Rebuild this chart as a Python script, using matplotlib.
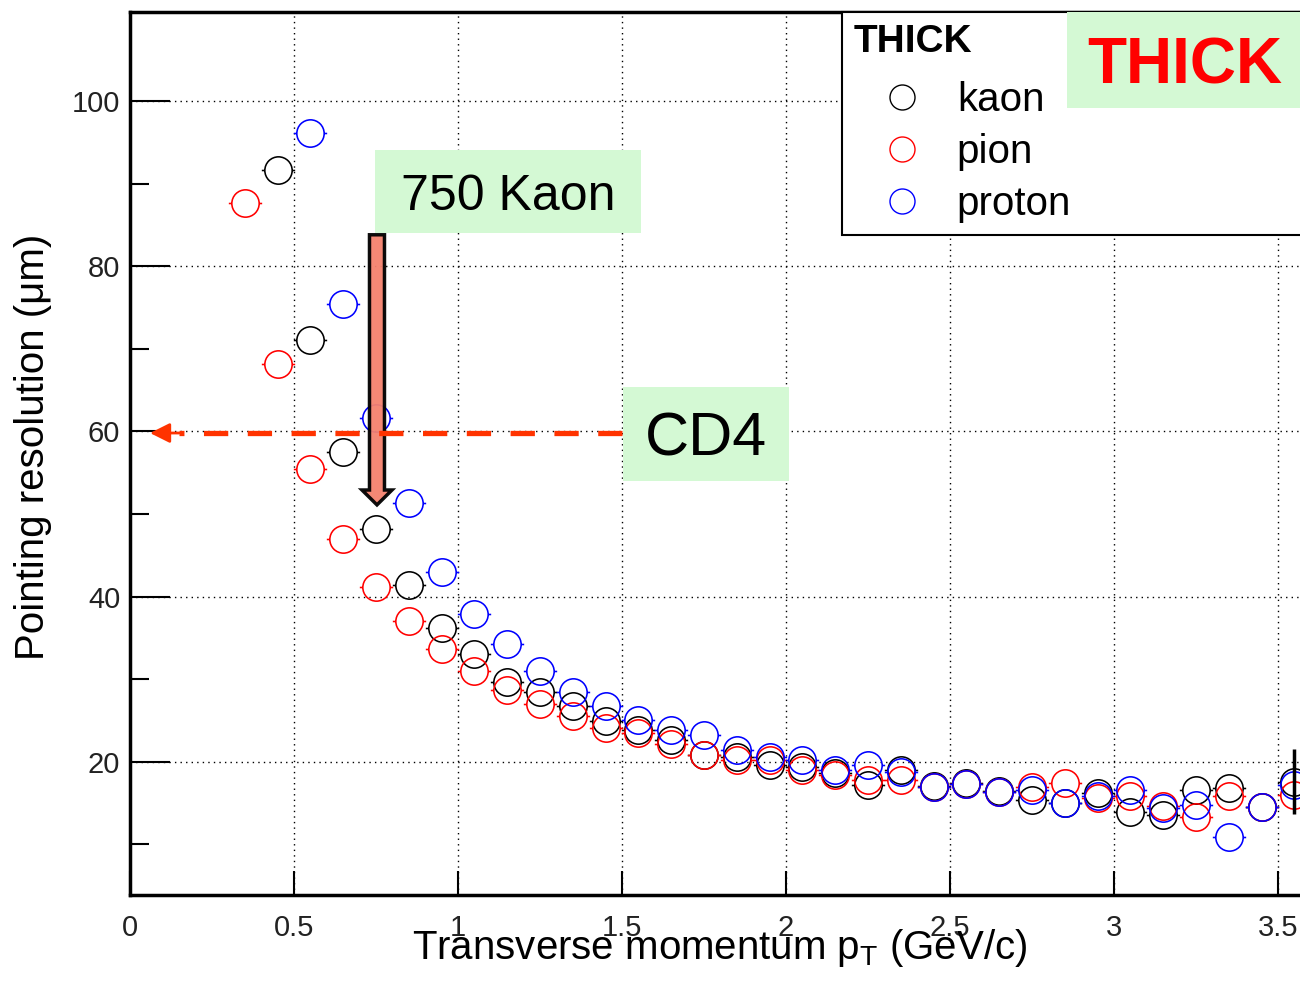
import matplotlib
matplotlib.use("Agg")
import matplotlib.pyplot as plt
from matplotlib.path import Path
from matplotlib.lines import Line2D
from matplotlib.patches import Rectangle
import numpy as np

# ---------------- data ----------------
kaon_x = [0.45, 0.55, 0.65, 0.75, 0.85, 0.95, 1.05, 1.15, 1.25, 1.35, 1.45, 1.55, 1.65,
          1.75, 1.85, 1.95, 2.05, 2.15, 2.25, 2.35, 2.45, 2.55, 2.65, 2.75, 2.85, 2.95,
          3.05, 3.15, 3.25, 3.35, 3.45, 3.55]
kaon_y = [91.6, 71.1, 57.5, 48.2, 41.4, 36.2, 33.0, 29.7, 28.4, 26.8, 24.9, 23.9, 22.6,
          20.8, 20.6, 19.6, 19.4, 18.6, 17.2, 19.0, 17.1, 17.4, 16.5, 15.4, 15.0, 16.2,
          13.9, 13.5, 16.6, 16.8, 14.5, 17.6]
kaon_yerr = [0, 0, 0, 0, 0, 0, 0, 0, 0, 0, 0, 0, 0, 0, 0, 0, 0, 0, 0, 0, 0, 0, 0, 0, 0, 0,
             0, 0, 0, 0, 0, 3.9]

pion_x = [0.35, 0.45, 0.55, 0.65, 0.75, 0.85, 0.95, 1.05, 1.15, 1.25, 1.35, 1.45, 1.55,
          1.65, 1.75, 1.85, 1.95, 2.05, 2.15, 2.25, 2.35, 2.45, 2.55, 2.65, 2.75, 2.85,
          2.95, 3.05, 3.15, 3.25, 3.35, 3.45, 3.55]
pion_y = [87.6, 68.1, 55.4, 47.0, 41.2, 37.0, 33.6, 31.0, 28.7, 27.0, 25.5, 24.1, 23.5,
          22.2, 20.8, 20.2, 20.2, 19.0, 18.4, 17.8, 17.8, 17.0, 17.3, 16.4, 16.9, 17.4,
          15.6, 15.8, 14.6, 13.3, 15.8, 14.5, 16.0]

proton_x = [0.55, 0.65, 0.75, 0.85, 0.95, 1.05, 1.15, 1.25, 1.35, 1.45, 1.55, 1.65, 1.75,
            1.85, 1.95, 2.05, 2.15, 2.25, 2.35, 2.45, 2.55, 2.65, 2.75, 2.85, 2.95, 3.05,
            3.15, 3.25, 3.35, 3.45, 3.55]
proton_y = [96.1, 75.4, 61.6, 51.3, 43.0, 37.9, 34.3, 31.0, 28.5, 26.8, 25.1, 23.9, 23.2,
            21.4, 20.6, 20.2, 19.0, 19.6, 18.8, 17.0, 17.3, 16.4, 16.6, 15.0, 15.8, 16.6,
            14.4, 14.8, 10.9, 14.5, 17.2]

series_names = ["kaon", "pion", "proton"]
series_colors = ["black", "#ff0000", "#0000ff"]

x_ticks = [0, 0.5, 1, 1.5, 2, 2.5, 3, 3.5]
x_ticklabels = ["0", "0.5", "1", "1.5", "2", "2.5", "3", "3.5"]
y_ticks = [20, 40, 60, 80, 100]

# ---------------- style ----------------
W, H = 1300, 982
fig = plt.figure(figsize=(W / 100, H / 100), dpi=100)
arial = ["Liberation Sans", "DejaVu Sans"]

ax_left, ax_bottom = 130 / W, (H - 895) / H
ax_w, ax_h = 1172 / W, 883 / H
ax = fig.add_axes([ax_left, ax_bottom, ax_w, ax_h])
ax.set_xlim(0, 1172 / 328)
ax.set_ylim(3.87, 110.77)

# marker: hollow circle with small error-bar stubs on both sides
circ = Path.circle((0, 0), 1.0)
stub_verts = [(-1.22, 0), (-1.0, 0), (1.0, 0), (1.22, 0)]
stub_codes = [Path.MOVETO, Path.LINETO, Path.MOVETO, Path.LINETO]
marker_path = Path(np.concatenate([circ.vertices, stub_verts]),
                   np.concatenate([circ.codes, stub_codes]))

data = [(kaon_x, kaon_y), (pion_x, pion_y), (proton_x, proton_y)]
for (xs, ys), c in zip(data, series_colors):
    ax.plot(xs, ys, linestyle="none", marker=marker_path, markersize=24,
            mfc="none", mec=c, mew=1.15, zorder=5)

ax.errorbar(kaon_x, kaon_y, yerr=kaon_yerr, fmt="none", ecolor="black",
            elinewidth=2.5, capsize=0, zorder=5)

# grid / ticks
ax.set_xticks(x_ticks)
ax.set_xticklabels(x_ticklabels)
ax.set_yticks(y_ticks)
ax.set_yticks([10, 30, 50, 70, 90], minor=True)
ax.grid(True, which="major", color="black", linestyle=(0, (1, 3)), linewidth=1.0)
ax.tick_params(axis="y", which="major", direction="in", length=29, width=1.5,
               labelsize=21, pad=7)
ax.tick_params(axis="y", which="minor", direction="in", length=14, width=1.5)
ax.tick_params(axis="x", which="major", direction="in", length=17, width=1.5,
               labelsize=21, pad=14)
for lab in ax.get_xticklabels() + ax.get_yticklabels():
    lab.set_family(arial)
    lab.set_color("#222222")
for s in ["left", "bottom", "top"]:
    ax.spines[s].set_linewidth(2.5)
ax.spines["right"].set_visible(False)

ax.set_xlabel("Transverse momentum p$_{\\mathregular{T}}$ (GeV/c)", fontsize=29,
              family=arial, va="center")
ax.xaxis.set_label_coords((720 - 130) / 1172, -(948 - 895) / 883)
ax.set_ylabel("Pointing resolution (\u03bcm)", fontsize=29, family=arial, va="center")
ax.yaxis.set_label_coords(-(130 - 33) / 1172, (895 - 447) / 883)

# legend
leg_fs = 29
handles = [Line2D([], [], linestyle="none", marker="o", markersize=18, mfc="none",
                  mec=c, mew=1.0) for c in series_colors]
leg = ax.legend(handles, series_names, title="THICK", alignment="left",
                loc="upper left",
                bbox_to_anchor=(842 / W, 1 - 233 / H, 0.4, 221 / H),
                bbox_transform=fig.transFigure, mode="expand",
                prop={"family": arial, "size": leg_fs},
                title_fontproperties={"family": arial, "size": 28, "weight": "bold"},
                frameon=True, fancybox=False, edgecolor="black", framealpha=1,
                borderpad=0.3, labelspacing=0.35, handlelength=2.4, handletextpad=0.15,
                borderaxespad=0)
leg.get_frame().set_linewidth(1.5)
leg.set_zorder(8)
# extra gap between legend title and entries
leg._legend_box.sep = 0.35 * leg_fs + 5

# annotation arrows
arrow_x = 0.753
ax.arrow(arrow_x, 83.8, 0, -32.7, width=15 / 328, head_width=30 / 328,
         head_length=1.8, length_includes_head=True, fc="#f4826e", ec="black",
         lw=2.5, zorder=6, alpha=0.95)

cd4_y = 59.8
ax.plot([1.5, 0.148], [cd4_y, cd4_y], color="#ff3300", lw=3.8,
        linestyle=(0, (4.6, 3.7)), zorder=7, solid_capstyle="butt",
        dash_capstyle="butt")
ax.annotate("", xy=(0.061, cd4_y), xytext=(0.15, cd4_y),
            arrowprops=dict(arrowstyle="-|>,head_length=1.2,head_width=0.6",
                            color="#ff3300", lw=2, shrinkA=0, shrinkB=0),
            zorder=7)

# green label boxes (figure coordinates in pixels)
box_color = "#d4f9d4"

def green_box(x0, y0, x1, y1, text, size, color="black", weight="normal"):
    fig.patches.append(Rectangle((x0 / W, 1 - y1 / H), (x1 - x0) / W, (y1 - y0) / H,
                                 transform=fig.transFigure, facecolor=box_color,
                                 edgecolor="none", zorder=20))
    fig.text((x0 + x1) / 2 / W, 1 - (y0 + y1) / 2 / H, text, ha="center",
             va="center_baseline", fontsize=size, color=color, weight=weight,
             family=arial, zorder=21)

green_box(375, 150, 641, 233, "750 Kaon", 36)
green_box(623, 387, 789, 481, "CD4", 44)
green_box(1067, 12, 1302, 108, "THICK", 46, color="#ff0000", weight="bold")

fig.savefig("out.png", dpi=100)
